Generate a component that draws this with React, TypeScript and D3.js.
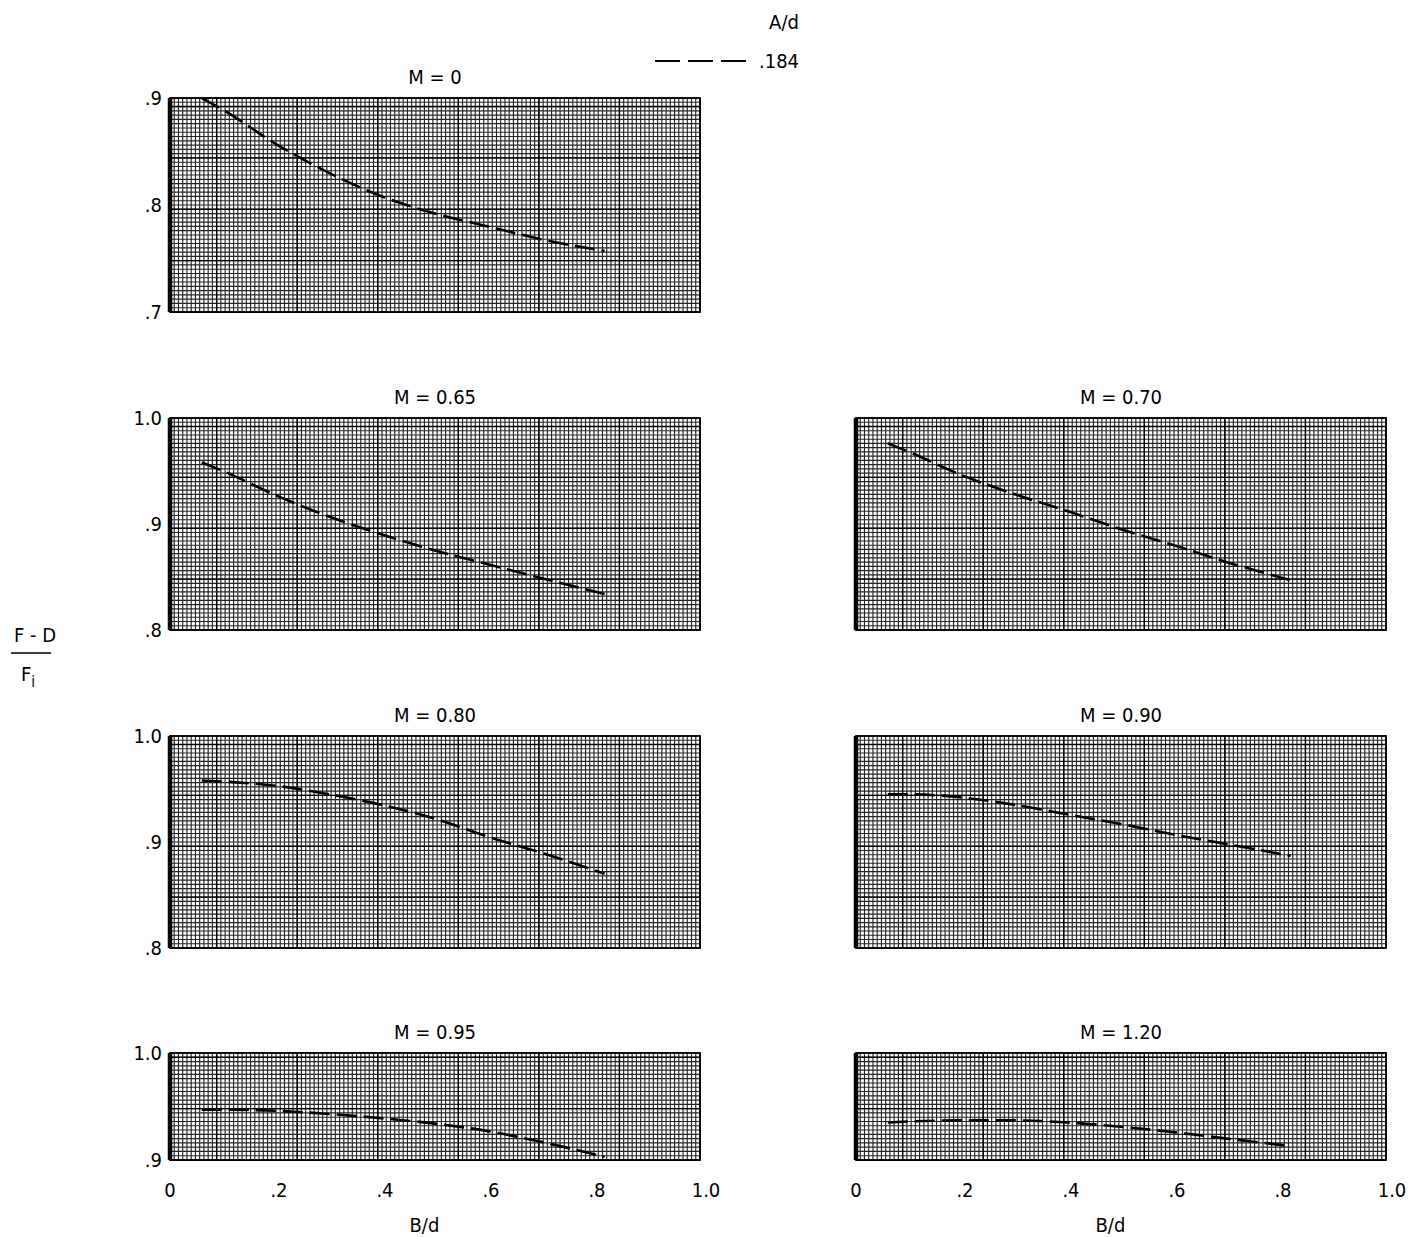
import React from 'react';
import * as d3 from 'd3';

// ---- data ----
const bdValues = [0.06, 0.1, 0.2, 0.3, 0.4, 0.5, 0.6, 0.7, 0.82];
const seriesM000 = [0.9, 0.889, 0.857, 0.83, 0.808, 0.792, 0.78, 0.768, 0.757];
const seriesM065 = [0.958, 0.95, 0.927, 0.907, 0.89, 0.875, 0.862, 0.849, 0.834];
const seriesM070 = [0.976, 0.968, 0.946, 0.928, 0.912, 0.895, 0.88, 0.864, 0.847];
const seriesM080 = [0.958, 0.957, 0.953, 0.945, 0.935, 0.922, 0.905, 0.89, 0.87];
const seriesM090 = [0.945, 0.945, 0.942, 0.935, 0.926, 0.917, 0.907, 0.898, 0.887];
const seriesM095 = [0.947, 0.947, 0.946, 0.943, 0.939, 0.934, 0.927, 0.917, 0.903];
const seriesM120 = [0.935, 0.936, 0.937, 0.937, 0.935, 0.931, 0.926, 0.92, 0.913];
const xTicks = [0, 0.2, 0.4, 0.6, 0.8, 1.0];
const xTickLabels = ['0', '.2', '.4', '.6', '.8', '1.0'];
const legendLabel = '.184';
const legendTitle = 'A/d';

const fmtY = (v: number) => (v >= 0.999 ? '1.0' : '.' + Math.round(v * 10));

// ---- layout ----
const FONT = "'DejaVu Sans Condensed', 'DejaVu Sans', 'Liberation Sans Narrow', Arial, sans-serif";
const colX = [170, 856];
const W = 530;

type Panel = {
  title: string; col: number; top: number; bottom: number;
  domain: [number, number]; ticks: number[]; values: number[]; yLabels: boolean; xAxis: boolean;
};

const panels: Panel[] = [
  { title: 'M = 0', col: 0, top: 98, bottom: 312, domain: [0.7, 0.9], ticks: [0.7, 0.8, 0.9], values: seriesM000, yLabels: true, xAxis: false },
  { title: 'M = 0.65', col: 0, top: 418, bottom: 630, domain: [0.8, 1.0], ticks: [0.8, 0.9, 1.0], values: seriesM065, yLabels: true, xAxis: false },
  { title: 'M = 0.70', col: 1, top: 418, bottom: 630, domain: [0.8, 1.0], ticks: [0.8, 0.9, 1.0], values: seriesM070, yLabels: false, xAxis: false },
  { title: 'M = 0.80', col: 0, top: 736, bottom: 948, domain: [0.8, 1.0], ticks: [0.8, 0.9, 1.0], values: seriesM080, yLabels: true, xAxis: false },
  { title: 'M = 0.90', col: 1, top: 736, bottom: 948, domain: [0.8, 1.0], ticks: [0.8, 0.9, 1.0], values: seriesM090, yLabels: false, xAxis: false },
  { title: 'M = 0.95', col: 0, top: 1053, bottom: 1160, domain: [0.9, 1.0], ticks: [0.9, 1.0], values: seriesM095, yLabels: true, xAxis: true },
  { title: 'M = 1.20', col: 1, top: 1053, bottom: 1160, domain: [0.9, 1.0], ticks: [0.9, 1.0], values: seriesM120, yLabels: false, xAxis: true },
];

// graph-paper grid (decoration): fine cells of 0.008 in x and 0.004 in y
const FX = 0.008;
const FY = 0.004;
const fineX = d3.range(0, 126).map((i) => i * FX);
const heavyX = d3.range(11, 126, 19).map((i) => i * FX);

const textProps = { fontSize: 20, fontFamily: FONT, fontStretch: 'condensed' as const, fill: '#000' };

function PanelView({ p }: { p: Panel }) {
  const x0 = colX[p.col];
  const x = d3.scaleLinear().domain([0, 1]).range([x0, x0 + W]);
  const y = d3.scaleLinear().domain(p.domain).range([p.bottom, p.top]);
  const nY = Math.round((p.domain[1] - p.domain[0]) / FY);
  const fineY = d3.range(0, nY + 1).map((i) => p.domain[0] + i * FY);
  const heavyY = d3.range(0, nY + 1, 12).map((i) => p.domain[0] + i * FY);
  const line = d3.line<number>()
    .x((_, i) => x(bdValues[i]))
    .y((d) => y(d))
    .curve(d3.curveMonotoneX);
  return (
    <g>
      <text x={x(0.5)} y={p.top - 14} textAnchor="middle" {...textProps}>{p.title}</text>
      <g stroke="#000" strokeWidth={1.15} opacity={0.85}>
        {fineX.map((v, i) => (
          <line key={'fx' + i} x1={x(v)} x2={x(v)} y1={p.top} y2={p.bottom} />
        ))}
        {fineY.map((v, i) => (
          <line key={'fy' + i} x1={x(0)} x2={x(1)} y1={y(v)} y2={y(v)} />
        ))}
      </g>
      <g stroke="#000" strokeWidth={1.4}>
        {heavyX.map((v, i) => (
          <line key={'hx' + i} x1={x(v)} x2={x(v)} y1={p.top} y2={p.bottom} />
        ))}
        {heavyY.map((v, i) => (
          <line key={'hy' + i} x1={x(0)} x2={x(1)} y1={y(v)} y2={y(v)} />
        ))}
      </g>
      <rect x={x(0)} y={p.top} width={W} height={p.bottom - p.top} fill="none" stroke="#000" strokeWidth={1.8} />
      <line x1={x(0)} x2={x(0)} y1={p.top} y2={p.bottom} stroke="#000" strokeWidth={4.5} />
      <path d={line(p.values) || ''} fill="none" stroke="#000" strokeWidth={2.6} strokeDasharray="20 7" />
      {p.yLabels && p.ticks.map((t) => (
        <text key={'yt' + t} x={x0 - 8} y={y(t) + 7} textAnchor="end" {...textProps}>{fmtY(t)}</text>
      ))}
      {p.xAxis && xTicks.map((t, i) => (
        <text key={'xt' + t} x={x(t) + (t === 1 ? 6 : t === 0 ? 0 : 3)} y={p.bottom + 37} textAnchor="middle" {...textProps}>{xTickLabels[i]}</text>
      ))}
      {p.xAxis && (
        <text x={x(0.48)} y={p.bottom + 72} textAnchor="middle" {...textProps}>B/d</text>
      )}
    </g>
  );
}

export default function App() {
  return (
    <svg width={1423} height={1237} style={{ position: 'absolute', left: 0, top: 0, background: '#fff' }}>
      <rect x={0} y={0} width={1423} height={1237} fill="#fff" />
      {/* legend */}
      <text x={784} y={29} textAnchor="middle" {...textProps}>{legendTitle}</text>
      <line x1={655} x2={750} y1={61} y2={61} stroke="#000" strokeWidth={1.8} strokeDasharray="25 8" />
      <text x={759} y={68} {...textProps}>{legendLabel}</text>
      {/* y label */}
      <text x={35} y={642} textAnchor="middle" {...textProps}>F - D</text>
      <line x1={11} x2={51} y1={653} y2={653} stroke="#000" strokeWidth={1.5} />
      <text x={28} y={681} textAnchor="middle" {...textProps}>
        F<tspan fontSize={15} dy={6}>i</tspan>
      </text>
      {panels.map((p) => (
        <PanelView key={p.title} p={p} />
      ))}
    </svg>
  );
}
